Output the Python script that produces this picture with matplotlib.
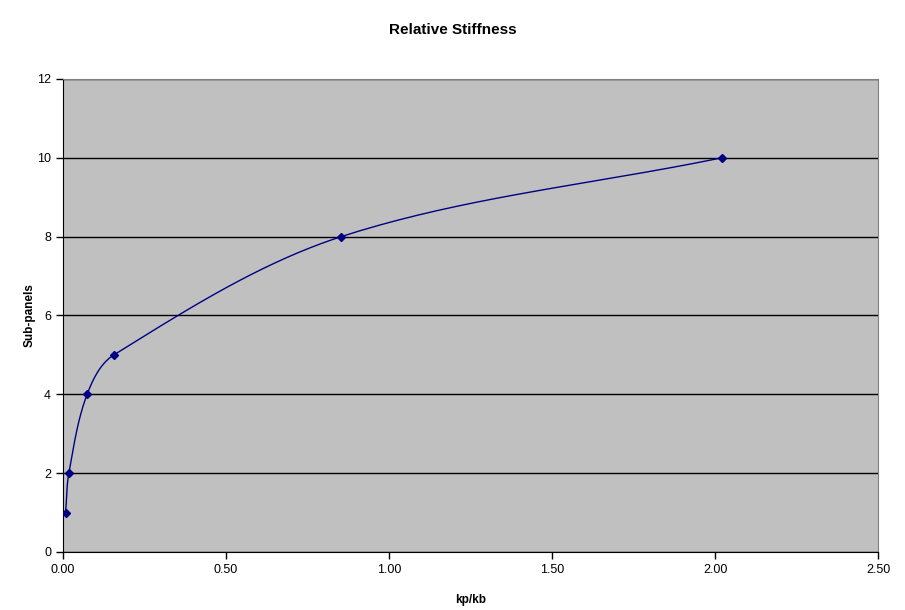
import numpy as np
import matplotlib
matplotlib.use("Agg")
import matplotlib.pyplot as plt

plt.rcParams['font.family'] = ['Liberation Sans', 'DejaVu Sans']

# data
kp_kb = [0.008, 0.018, 0.074, 0.156, 0.853, 2.02]
sub_panels = [1, 2, 4, 5, 8, 10]

x_ticks = [0.0, 0.5, 1.0, 1.5, 2.0, 2.5]
y_ticks = [0, 2, 4, 6, 8, 10, 12]


def smooth_line(xs, ys, sx, sy, n=40):
    # Excel-like smoothed line: bezier segments, tangent from neighbours,
    # handle length a third of the segment (in screen units)
    px = np.array(xs) * sx
    py = np.array(ys) * sy
    pts = np.column_stack([px, py])
    last = len(pts) - 1
    outx, outy = [], []
    for i in range(last):
        p0 = pts[max(i - 1, 0)]
        p1 = pts[i]
        p2 = pts[i + 1]
        p3 = pts[min(i + 2, last)]
        seg = np.hypot(*(p2 - p1))
        d1 = p2 - p0
        d1 = d1 / np.hypot(*d1)
        d2 = p3 - p1
        d2 = d2 / np.hypot(*d2)
        c1 = p1 + d1 * seg / 3
        c2 = p2 - d2 * seg / 3
        t = np.linspace(0, 1, n)[:, None]
        b = (1 - t) ** 3 * p1 + 3 * (1 - t) ** 2 * t * c1 + 3 * (1 - t) * t ** 2 * c2 + t ** 3 * p2
        outx.extend(b[:, 0])
        outy.extend(b[:, 1])
    return np.array(outx) / sx, np.array(outy) / sy


fig = plt.figure(figsize=(9.05, 6.1), dpi=100)
ax = fig.add_axes([0.0696, 0.0951, 0.9006, 0.7754])
ax.set_facecolor('#C0C0C0')

# pixel scale of the axes (815 px for 2.5, 473 px for 12)
lx, ly = smooth_line(kp_kb, sub_panels, 815 / 2.5, 473 / 12)
ax.plot(lx, ly, color='#000080', linewidth=1, zorder=3)
ax.plot(kp_kb, sub_panels, linestyle='none', marker='D', markersize=4,
        color='#000080', zorder=4)

ax.set_xlim(0, 2.5)
ax.set_ylim(0, 12)
ax.set_xticks(x_ticks)
ax.set_xticklabels(['%.2f' % v for v in x_ticks])
ax.set_yticks(y_ticks)
ax.grid(axis='y', color='black', linewidth=1)
ax.set_axisbelow(True)

for side in ['top', 'right']:
    ax.spines[side].set_color('#808080')
for side in ['left', 'bottom']:
    ax.spines[side].set_color('black')
ax.tick_params(direction='out', length=5, width=1, labelsize=9, colors='black')

ax.set_xlabel('kp/kb', fontsize=8.5, fontweight='bold', labelpad=13)
ax.set_ylabel('Sub-panels', fontsize=8.5, fontweight='bold', labelpad=1)
fig.text(0.5, 0.951, 'Relative Stiffness', ha='center', va='center',
         fontsize=11, fontweight='bold')

fig.savefig('out.png', dpi=100)
